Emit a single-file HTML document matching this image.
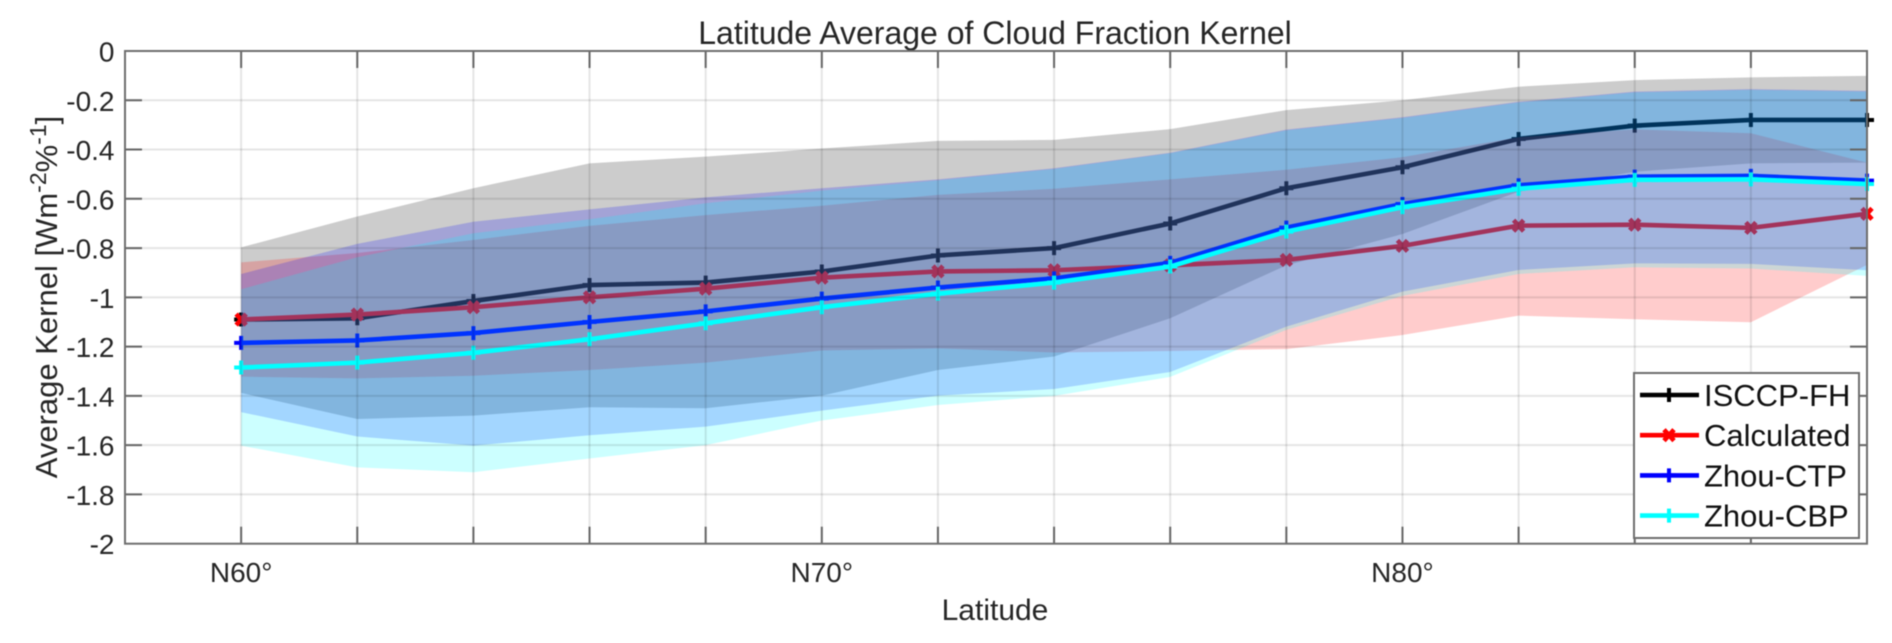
<!DOCTYPE html>
<html>
<head>
<meta charset="utf-8">
<title>Latitude Average of Cloud Fraction Kernel</title>
<style>
html,body{margin:0;padding:0;background:#fff;width:1892px;height:643px;overflow:hidden}
svg{display:block;filter:blur(0.6px)}
text{font-family:"Liberation Sans",sans-serif;fill:#262626}
</style>
</head>
<body>
<svg id="chart" width="1892" height="643" viewBox="0 0 1892 643" xmlns="http://www.w3.org/2000/svg">
<text x="995" y="44" font-size="32" text-anchor="middle">Latitude Average of Cloud Fraction Kernel</text>
<text x="995" y="620" font-size="30" text-anchor="middle">Latitude</text>
<text transform="translate(57,297) rotate(-90)" font-size="31" text-anchor="middle">Average Kernel [Wm<tspan dy="-11" font-size="23">-2</tspan><tspan dy="11">%</tspan><tspan dy="-11" font-size="23">-1</tspan><tspan dy="11">]</tspan></text>
</svg>
<script>
const latitudes = [60,62,64,66,68,70,72,74,76,78,80,82,84,86,88];
const yTickValues = [0,-0.2,-0.4,-0.6,-0.8,-1,-1.2,-1.4,-1.6,-1.8,-2];
const yTickLabels = ['0','-0.2','-0.4','-0.6','-0.8','-1','-1.2','-1.4','-1.6','-1.8','-2'];
const xLabelLats = [60,70,80];
const xLabelTexts = ['N60°','N70°','N80°'];

const isccpMean = [-1.09,-1.085,-1.015,-0.95,-0.94,-0.895,-0.83,-0.80,-0.70,-0.557,-0.472,-0.357,-0.303,-0.28,-0.28];
const isccpUpper = [-0.797,-0.672,-0.557,-0.456,-0.429,-0.396,-0.365,-0.361,-0.317,-0.24,-0.20,-0.145,-0.118,-0.107,-0.101];
const isccpLower = [-1.388,-1.494,-1.48,-1.446,-1.45,-1.399,-1.295,-1.24,-1.085,-0.87,-0.743,-0.571,-0.49,-0.456,-0.453];

const calcMean = [-1.09,-1.07,-1.04,-1.0,-0.965,-0.92,-0.895,-0.89,-0.87,-0.848,-0.791,-0.709,-0.705,-0.718,-0.661];
const calcUpper = [-0.858,-0.82,-0.767,-0.71,-0.666,-0.628,-0.584,-0.559,-0.521,-0.482,-0.431,-0.35,-0.318,-0.334,-0.453];
const calcLower = [-1.322,-1.329,-1.318,-1.295,-1.265,-1.216,-1.207,-1.224,-1.218,-1.21,-1.153,-1.074,-1.089,-1.101,-0.868];

const ctpMean = [-1.185,-1.175,-1.145,-1.10,-1.057,-1.005,-0.96,-0.923,-0.86,-0.717,-0.621,-0.545,-0.51,-0.507,-0.526];
const ctpUpper = [-0.905,-0.783,-0.693,-0.643,-0.594,-0.557,-0.521,-0.476,-0.413,-0.319,-0.269,-0.206,-0.165,-0.155,-0.162];
const ctpLower = [-1.466,-1.565,-1.602,-1.56,-1.525,-1.46,-1.399,-1.372,-1.303,-1.119,-0.977,-0.889,-0.862,-0.864,-0.89];

const cbpMean = [-1.285,-1.265,-1.225,-1.17,-1.105,-1.04,-0.985,-0.94,-0.875,-0.733,-0.634,-0.559,-0.523,-0.521,-0.54];
const cbpUpper = [-0.967,-0.837,-0.74,-0.683,-0.618,-0.567,-0.525,-0.479,-0.415,-0.322,-0.272,-0.209,-0.168,-0.158,-0.165];
const cbpLower = [-1.602,-1.69,-1.71,-1.654,-1.6,-1.50,-1.437,-1.40,-1.323,-1.132,-0.994,-0.905,-0.878,-0.883,-0.913];

const NS = 'http://www.w3.org/2000/svg';
const svg = document.getElementById('chart');
const plotL = 125, plotR = 1867, plotT = 51, plotB = 543.7;
function xScale(lat){ return plotL + (lat - 58) / 30 * (plotR - plotL); }
function yScale(v){ return plotT + (0 - v) / 2 * (plotB - plotT); }
function mk(tag, attrs, parent){
  const n = document.createElementNS(NS, tag);
  for (const k in attrs) n.setAttribute(k, attrs[k]);
  (parent || svg).appendChild(n);
  return n;
}
function markerPath(kind, cx, cy){
  if (kind === 'x') {
    const a = 5, b = 5.5;
    return 'M' + (cx-a) + ' ' + (cy-b) + 'L' + (cx+a) + ' ' + (cy+b) + 'M' + (cx-a) + ' ' + (cy+b) + 'L' + (cx+a) + ' ' + (cy-b);
  }
  const h = 7;
  return 'M' + (cx-h) + ' ' + cy + 'L' + (cx+h) + ' ' + cy + 'M' + cx + ' ' + (cy-h) + 'L' + cx + ' ' + (cy+h);
}

// white plot background
const plotBg = mk('rect', {x: plotL, y: plotT, width: plotR - plotL, height: plotB - plotT, fill: '#fff'});



function drawSeries(key, color, marker, upper, lower, mean){
  let band = '';
  latitudes.forEach(function(lat, i){ band += (i ? 'L' : 'M') + xScale(lat) + ' ' + yScale(upper[i]); });
  for (let i = latitudes.length - 1; i >= 0; i--) band += 'L' + xScale(latitudes[i]) + ' ' + yScale(lower[i]);
  const area = mk('path', {d: band + 'Z', fill: color, 'fill-opacity': 0.2, stroke: 'none'});
  
  

  const pts = latitudes.map(function(lat, i){ return xScale(lat) + ',' + yScale(mean[i]); }).join(' ');
  const line = mk('polyline', {points: pts, fill: 'none', stroke: color, 'stroke-width': 4.6, 'stroke-linejoin': 'round'});
  
  

  latitudes.forEach(function(lat, i){
    const m = mk('path', {d: markerPath(marker, xScale(lat), yScale(mean[i])), fill: 'none', stroke: color, 'stroke-width': marker === 'x' ? 4.6 : 4});
    
    
  });
}
// every line sits under the later series' translucent fills, as in the reference
drawSeries('isccp-fh', '#000000', 'plus', isccpUpper, isccpLower, isccpMean);
drawSeries('calculated', '#ff0000', 'x', calcUpper, calcLower, calcMean);
drawSeries('zhou-ctp', '#0000ff', 'plus', ctpUpper, ctpLower, ctpMean);
drawSeries('zhou-cbp', '#00ffff', 'plus', cbpUpper, cbpLower, cbpMean);

// grid
latitudes.forEach(function(lat){
  if (lat === 88) return;
  const g = mk('line', {x1: xScale(lat), x2: xScale(lat), y1: plotT, y2: plotB, stroke: '#000', 'stroke-opacity': 0.1, 'stroke-width': 2});
  
  
  const t1 = mk('line', {x1: xScale(lat), x2: xScale(lat), y1: plotT, y2: plotT + 17, stroke: '#666', 'stroke-width': 2});
  
  
  const t2 = mk('line', {x1: xScale(lat), x2: xScale(lat), y1: plotB, y2: plotB - 17, stroke: '#666', 'stroke-width': 2});
  
  
});
yTickValues.forEach(function(v, i){
  const y = yScale(v);
  if (v !== 0 && v !== -2) {
    const g = mk('line', {x1: plotL, x2: plotR, y1: y, y2: y, stroke: '#000', 'stroke-opacity': 0.1, 'stroke-width': 2});
    
    
    const t1 = mk('line', {x1: plotL, x2: plotL + 17, y1: y, y2: y, stroke: '#666', 'stroke-width': 2});
    
    
    const t2 = mk('line', {x1: plotR, x2: plotR - 17, y1: y, y2: y, stroke: '#666', 'stroke-width': 2});
    
    
  }
  const lab = mk('text', {x: 114.5, y: y + 10.5, 'font-size': 28, 'text-anchor': 'end'});
  lab.textContent = yTickLabels[i];
  
  
});
xLabelLats.forEach(function(lat, i){
  const lab = mk('text', {x: xScale(lat), y: 582, 'font-size': 28, 'text-anchor': 'middle'});
  lab.textContent = xLabelTexts[i];
  
  
});

// frame
const frame = mk('rect', {x: plotL, y: plotT, width: plotR - plotL, height: plotB - plotT, fill: 'none', stroke: '#6e6e6e', 'stroke-width': 2});



// legend
const legendNames = ['ISCCP-FH','Calculated','Zhou-CTP','Zhou-CBP'];
const legendColors = ['#000000','#ff0000','#0000ff','#00ffff'];
const legendMarkers = ['plus','x','plus','plus'];
const legendBox = mk('rect', {x: 1634, y: 373, width: 225, height: 165, fill: '#fff', stroke: '#6e6e6e', 'stroke-width': 2});


legendNames.forEach(function(name, i){
  const y = 395 + i * 40.2;
  const l = mk('line', {x1: 1640, x2: 1699, y1: y, y2: y, stroke: legendColors[i], 'stroke-width': 4.6});
  
  
  const m = mk('path', {d: markerPath(legendMarkers[i], 1669, y), fill: 'none', stroke: legendColors[i], 'stroke-width': legendMarkers[i] === 'x' ? 4.6 : 4});
  
  
  const t = mk('text', {x: 1704, y: y + 11, 'font-size': 31, fill: '#000'});
  t.textContent = name;
  t.style.fill = '#111';
  
  
});
</script>
</body>
</html>
